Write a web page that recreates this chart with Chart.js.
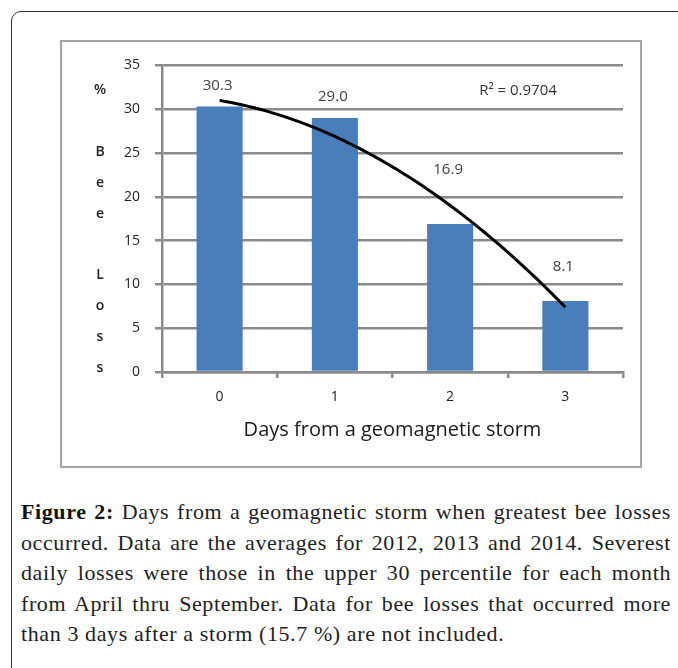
<!DOCTYPE html>
<html>
<head>
<meta charset="utf-8">
<script src="https://cdn.jsdelivr.net/npm/chart.js@4.4.0/dist/chart.umd.min.js"></script>
<style>
  html, body { margin: 0; padding: 0; background: #fff; }
  body { width: 678px; height: 668px; position: relative; overflow: hidden; }
  .frame {
    position: absolute; left: 11px; top: 11px; width: 720px; height: 720px;
    border: 1.5px solid #333; border-top-left-radius: 10px; box-sizing: border-box;
  }
  .chart-box {
    position: absolute; left: 60px; top: 40px; width: 582px; height: 428px;
    border: 2px solid #a4a4a4; box-sizing: border-box; background: #fff;
  }
  .chart-box canvas { position: absolute; left: 0; top: 0; }
  .caption {
    position: absolute; left: 21px; top: 497px; width: 650px;
    font-family: "Liberation Serif", "Times New Roman", serif;
    font-size: 22px; letter-spacing: 0.6px; line-height: 30.5px; color: #1e1e1e;
  }
  .caption div { text-align: justify; text-align-last: justify; white-space: nowrap; }
  .caption div.last { text-align-last: left; }
  .caption b { color: #111; }
</style>
</head>
<body>
<div class="frame"></div>
<div class="chart-box">
  <canvas id="chart" width="578" height="424"></canvas>
</div>
<div class="caption">
  <div><b>Figure 2:</b> Days from a geomagnetic storm when greatest bee losses</div>
  <div>occurred. Data are the averages for 2012, 2013 and 2014. Severest</div>
  <div>daily losses were those in the upper 30 percentile for each month</div>
  <div>from April thru September. Data for bee losses that occurred more</div>
  <div class="last">than 3 days after a storm (15.7 %) are not included.</div>
</div>

<script>
// chart data
const days = ['0', '1', '2', '3'];
const beeLoss = [30.3, 29.0, 16.9, 8.1];
const yTicks = [0, 5, 10, 15, 20, 25, 30, 35];
const yTitleLines = ['%', '', 'B', 'e', 'e', '', 'L', 'o', 's', 's'];
const r2Text = 'R\u00B2 = 0.9704';

// pixel offsets of the value labels above each bar (Excel moved some of them)
const labelLift = [21, 21, 54, 34];

const FONT = '"Open Sans", "Liberation Sans", sans-serif';
const GRID = '#8a8a8a';

// least squares fit of a 2nd order polynomial (the Excel trendline)
function polyFit2(ys) {
  let n = ys.length, sx = 0, sx2 = 0, sx3 = 0, sx4 = 0, sy = 0, sxy = 0, sx2y = 0;
  ys.forEach((y, x) => {
    sx += x; sx2 += x * x; sx3 += x ** 3; sx4 += x ** 4;
    sy += y; sxy += x * y; sx2y += x * x * y;
  });
  // solve 3x3 normal equations (Cramer)
  const det = (m) => m[0][0] * (m[1][1] * m[2][2] - m[1][2] * m[2][1])
    - m[0][1] * (m[1][0] * m[2][2] - m[1][2] * m[2][0])
    + m[0][2] * (m[1][0] * m[2][1] - m[1][1] * m[2][0]);
  const A = [[n, sx, sx2], [sx, sx2, sx3], [sx2, sx3, sx4]];
  const B = [sy, sxy, sx2y];
  const D = det(A);
  const coef = [0, 1, 2].map(k => {
    const M = A.map((row, i) => row.map((v, j) => (j === k ? B[i] : v)));
    return det(M) / D;
  });
  return x => coef[0] + coef[1] * x + coef[2] * x * x;
}
const trend = polyFit2(beeLoss);

// draws trendline, value labels, R² and the stacked y title
const extrasPlugin = {
  id: 'extras',
  afterDatasetsDraw(chart) {
    const { ctx, chartArea, scales: { x, y } } = chart;
    ctx.save();

    // trendline
    ctx.beginPath();
    const steps = 60;
    for (let i = 0; i <= steps; i++) {
      const xv = (beeLoss.length - 1) * i / steps;
      const px = x.getPixelForValue(xv);
      const py = y.getPixelForValue(trend(xv));
      if (i === 0) ctx.moveTo(px, py); else ctx.lineTo(px, py);
    }
    ctx.strokeStyle = '#000';
    ctx.lineWidth = 3;
    ctx.lineJoin = 'round';
    ctx.stroke();

    // value labels
    ctx.font = '15px ' + FONT;
    ctx.fillStyle = '#404040';
    ctx.textAlign = 'center';
    ctx.textBaseline = 'middle';
    const meta = chart.getDatasetMeta(0);
    meta.data.forEach((bar, i) => {
      ctx.fillText(beeLoss[i].toFixed(1), bar.x - 2, bar.y - labelLift[i]);
    });

    // R squared
    ctx.fillStyle = '#333';
    ctx.fillText(r2Text, chartArea.right - 105, chartArea.top + 25);

    // stacked y axis title
    ctx.font = '600 14px ' + FONT;
    ctx.fillStyle = '#222';
    const top = chartArea.top + 25, bottom = chartArea.bottom - 4;
    const step = (bottom - top) / (yTitleLines.length - 1);
    yTitleLines.forEach((ch, i) => {
      if (ch) ctx.fillText(ch, 38, top + i * step);
    });
    ctx.restore();
  }
};

const ctx = document.getElementById('chart').getContext('2d');
new Chart(ctx, {
  type: 'bar',
  data: {
    labels: days,
    datasets: [{
      data: beeLoss,
      backgroundColor: '#4a7ebb',
      borderWidth: 0,
      barPercentage: 0.4,
      categoryPercentage: 1.0,
    }],
  },
  options: {
    responsive: false,
    animation: false,
    layout: { padding: { top: 21, right: 17, left: 0, bottom: 0 } },
    plugins: {
      legend: { display: false },
      tooltip: { enabled: false },
    },
    scales: {
      x: {
        offset: true,
        grid: { display: true, drawOnChartArea: false, drawTicks: true, tickLength: 6, color: GRID, lineWidth: 2.5, offset: true },
        border: { display: true, color: GRID, width: 2.5 },
        ticks: { font: { family: FONT, size: 14 }, color: '#222', padding: 11 },
        title: {
          display: true,
          text: 'Days from a geomagnetic storm',
          font: { family: FONT, size: 20 },
          color: '#1a1a1a',
          padding: { top: 4, bottom: 24 },
        },
        afterFit(scale) { scale.height = 94; },
      },
      y: {
        min: 0,
        max: 35,
        afterBuildTicks(scale) { scale.ticks = yTicks.map(v => ({ value: v })); },
        grid: { color: GRID, lineWidth: 2.5, tickLength: 7, drawTicks: true },
        border: { display: true, color: GRID, width: 2.5 },
        ticks: { font: { family: FONT, size: 14 }, color: '#222', padding: 15 },
        afterFit(scale) { scale.width = 100; },
      },
    },
  },
  plugins: [extrasPlugin],
});
</script>
</body>
</html>
